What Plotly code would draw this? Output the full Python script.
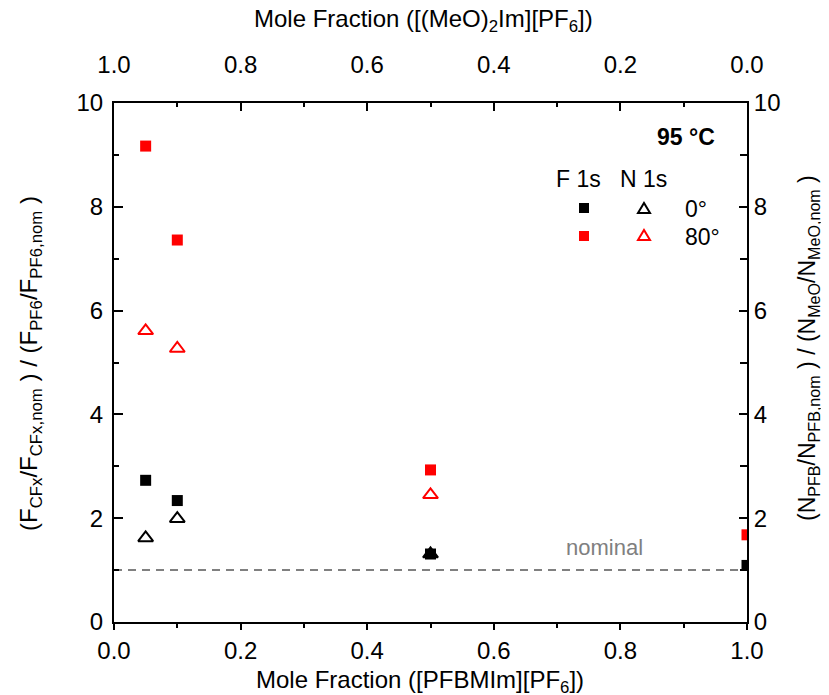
import plotly.graph_objects as go

# ---- data ----
x_frac = [0.05, 0.1, 0.5, 1.0]
f1s_0 = [2.73, 2.34, 1.31, 1.09]
f1s_80 = [9.17, 7.36, 2.93, 1.68]
x_n = [0.05, 0.1, 0.5]
n1s_0 = [1.62, 1.99, 1.31]
n1s_80 = [5.61, 5.27, 2.45]
nominal_x = [0.0, 1.0]
nominal_y = [1.0, 1.0]
y_ticks = [0, 2, 4, 6, 8, 10]
x_ticks = [0.0, 0.2, 0.4, 0.6, 0.8, 1.0]

FONT = "Liberation Sans, Arial, sans-serif"
RED = "#ff0000"

fig = go.Figure()

fig.add_trace(go.Scatter(x=nominal_x, y=nominal_y, mode="lines",
                         line=dict(color="#808080", width=2, dash="8px,6px"),
                         showlegend=False, hoverinfo="skip"))
fig.add_trace(go.Scatter(x=x_frac, y=f1s_0, mode="markers",
                         marker=dict(symbol="square", size=11, color="black"),
                         showlegend=False))
fig.add_trace(go.Scatter(x=x_frac, y=f1s_80, mode="markers",
                         marker=dict(symbol="square", size=11, color=RED),
                         showlegend=False))
fig.add_trace(go.Scatter(x=x_n, y=n1s_0, mode="markers",
                         marker=dict(symbol="triangle-up-open", size=13, color="black",
                                     line=dict(width=2, color="black")),
                         showlegend=False))
fig.add_trace(go.Scatter(x=x_n, y=n1s_80, mode="markers",
                         marker=dict(symbol="triangle-up-open", size=13, color=RED,
                                     line=dict(width=2, color=RED)),
                         showlegend=False))
# dummy trace to activate secondary axes
fig.add_trace(go.Scatter(x=[0.5], y=[5], xaxis="x2", yaxis="y2", mode="markers",
                         marker=dict(opacity=0), showlegend=False, hoverinfo="skip"))

tickfont = dict(family=FONT, size=24, color="black")

common = dict(showline=True, linecolor="black", linewidth=2, mirror=False,
              showgrid=False, zeroline=False, tickfont=tickfont,
              tickcolor="black", tickwidth=2)

fig.update_layout(
    width=829, height=695,
    margin=dict(l=106, r=90, t=95, b=81),
    plot_bgcolor="white", paper_bgcolor="white",
    xaxis=dict(range=[0, 1], tickvals=x_ticks, ticktext=[f"{v:.1f}" for v in x_ticks],
               ticks="outside", ticklen=6,
               minor=dict(dtick=0.1, ticks="outside", ticklen=4, tickwidth=2, tickcolor="black"),
               **common),
    yaxis=dict(range=[0, 10], tickvals=y_ticks, ticks="inside", ticklen=9,
               ticklabelstandoff=4,
               minor=dict(dtick=1, ticks="inside", ticklen=5, tickwidth=2, tickcolor="black"),
               **common),
    xaxis2=dict(range=[1, 0], overlaying="x", side="top", anchor="y",
                tickvals=x_ticks, ticktext=[f"{v:.1f}" for v in x_ticks],
                ticks="inside", ticklen=8, ticklabelstandoff=18,
                minor=dict(dtick=0.1, ticks="inside", ticklen=4, tickwidth=2, tickcolor="black"),
                **common),
    yaxis2=dict(range=[0, 10], overlaying="y", side="right", anchor="x",
                tickvals=y_ticks, ticks="inside", ticklen=8,
                minor=dict(dtick=1, ticks="inside", ticklen=7, tickwidth=2, tickcolor="black"),
                **common),
)

W = 829 - 106 - 90
H = 695 - 95 - 81
def px(xp): return (xp - 106) / W
def py(yp): return (614 - yp) / H

def ann(text, x, y, size=23, bold=False, color="black", xanchor="center", angle=0):
    fig.add_annotation(text=f"<b>{text}</b>" if bold else text, x=x, y=y,
                       xref="paper", yref="paper", showarrow=False,
                       xanchor=xanchor, yanchor="middle", textangle=angle,
                       font=dict(family=FONT, size=size, color=color))

# axis titles
ann("Mole Fraction ([PFBMIm][PF<sub>6</sub>])", px(412), py(673), size=24)
ann("Mole Fraction ([(MeO)<sub>2</sub>Im][PF<sub>6</sub>])", px(415), py(12), size=24)
ann("(F<sub>CFx</sub>/F<sub>CFx,nom</sub> ) / (F<sub>PF6</sub>/F<sub>PF6,nom</sub> )",
    px(22), py(356), size=24, angle=-90)
ann("(N<sub>PFB</sub>/N<sub>PFB,nom</sub> ) / (N<sub>MeO</sub>/N<sub>MeO,nom</sub> )",
    px(800), py(340), size=23, angle=-90)

# in-plot labels
ann("95 °C", px(709), py(129), size=23, bold=True, xanchor="right")
ann("F 1s", px(570), py(171))
ann("N 1s", px(635), py(171))
ann("0°", px(675), py(201), xanchor="left")
ann("80°", px(675), py(229), xanchor="left")
fig.add_annotation(text="nominal", x=0.775, y=1.0, xref="x", yref="y", yshift=23,
                   showarrow=False, font=dict(family=FONT, size=22, color="#808080"))

# legend symbols (shapes in paper coords)
def sq(xc, yc, color, s=10):
    fig.add_shape(type="rect", xref="paper", yref="paper",
                  x0=px(xc - s/2), x1=px(xc + s/2), y0=py(yc + s/2), y1=py(yc - s/2),
                  fillcolor=color, line=dict(width=0))
def tri(xc, yc, color, w=12, h=10):
    pts = [(xc - w/2, yc + h/2), (xc + w/2, yc + h/2), (xc, yc - h/2)]
    path = "M " + " L ".join(f"{px(a):.5f},{py(b):.5f}" for a, b in pts) + " Z"
    fig.add_shape(type="path", xref="paper", yref="paper", path=path,
                  line=dict(color=color, width=2), fillcolor="rgba(0,0,0,0)")

sq(576, 200, "black")
tri(636, 200, "black")
sq(576, 228, RED)
tri(636, 227, RED)

fig.write_html("out.html")
